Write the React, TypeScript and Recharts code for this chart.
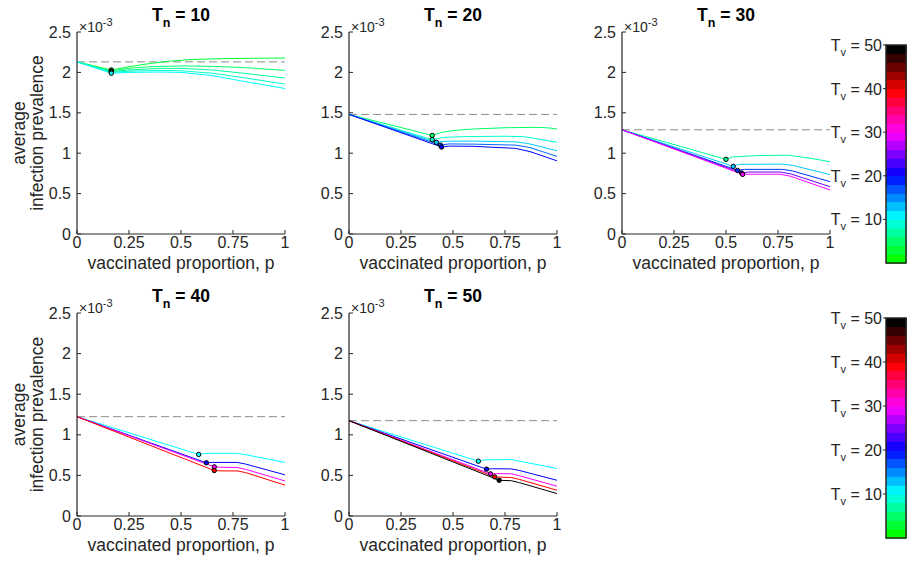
import React from 'react';
import { ComposedChart, Line, XAxis, YAxis, ReferenceLine, ReferenceArea } from 'recharts';

const FONT = '"Liberation Sans", Arial, Helvetica, sans-serif';
const INK = '#262626';

// axis ticks
const pTicks = [0, 0.25, 0.5, 0.75, 1];
const prevTicks = [0, 0.5, 1, 1.5, 2, 2.5];
const tvTicks = [10, 20, 30, 40, 50];
const tvBands = [0, 2, 4, 6, 8, 10, 12, 14, 16, 18, 20, 22, 24, 26, 28, 30, 32, 34, 36, 38, 40, 42, 44, 46, 48];

// curves: [p, prevalence x 1e-3]; 2nd point of each curve is the marked optimum
const tn10Baseline = 2.13;
const tn10Tv = [2, 4, 6, 8, 10];
const tn10Curves = [
  [[0, 2.13], [0.165, 2.03], [0.25, 2.07], [0.35, 2.11], [0.45, 2.14], [0.55, 2.16], [0.7, 2.17], [0.85, 2.175], [1, 2.178]],
  [[0, 2.13], [0.165, 2.02], [0.25, 2.05], [0.35, 2.07], [0.5, 2.08], [0.65, 2.075], [0.8, 2.06], [1, 2.025]],
  [[0, 2.13], [0.165, 2.01], [0.25, 2.03], [0.4, 2.05], [0.5, 2.05], [0.65, 2.03], [0.8, 1.99], [1, 1.93]],
  [[0, 2.13], [0.165, 2.0], [0.25, 2.015], [0.4, 2.025], [0.5, 2.02], [0.65, 1.99], [0.8, 1.935], [1, 1.855]],
  [[0, 2.13], [0.165, 1.99], [0.25, 2.0], [0.4, 2.005], [0.5, 2.0], [0.65, 1.96], [0.8, 1.89], [1, 1.8]],
];

const tn20Baseline = 1.48;
const tn20Tv = [4, 8, 12, 16, 20];
const tn20Curves = [
  [[0, 1.48], [0.4, 1.22], [0.45, 1.26], [0.5, 1.28], [0.6, 1.3], [0.75, 1.315], [0.9, 1.32], [0.95, 1.315], [1, 1.3]],
  [[0, 1.48], [0.4, 1.167], [0.45, 1.195], [0.55, 1.205], [0.75, 1.21], [0.84, 1.205], [0.9, 1.18], [1, 1.135]],
  [[0, 1.48], [0.42, 1.134], [0.46, 1.148], [0.6, 1.15], [0.8, 1.14], [0.86, 1.12], [1, 1.03]],
  [[0, 1.48], [0.44, 1.1], [0.48, 1.115], [0.6, 1.112], [0.8, 1.1], [0.87, 1.07], [1, 0.96]],
  [[0, 1.48], [0.445, 1.077], [0.48, 1.088], [0.6, 1.085], [0.8, 1.06], [0.87, 1.02], [1, 0.905]],
];

const tn30Baseline = 1.29;
const tn30Tv = [6, 12, 18, 24, 30];
const tn30Curves = [
  [[0, 1.29], [0.5, 0.924], [0.53, 0.953], [0.65, 0.97], [0.8, 0.975], [0.9, 0.94], [1, 0.895]],
  [[0, 1.29], [0.535, 0.837], [0.56, 0.862], [0.77, 0.865], [0.82, 0.85], [1, 0.735]],
  [[0, 1.29], [0.555, 0.788], [0.59, 0.8], [0.77, 0.8], [0.82, 0.78], [1, 0.648]],
  [[0, 1.29], [0.575, 0.755], [0.61, 0.767], [0.76, 0.767], [0.81, 0.745], [1, 0.585]],
  [[0, 1.29], [0.58, 0.738], [0.61, 0.74], [0.76, 0.74], [0.81, 0.715], [1, 0.545]],
];

const tn40Baseline = 1.223;
const tn40Tv = [10, 20, 30, 40];
const tn40Curves = [
  [[0, 1.223], [0.585, 0.758], [0.62, 0.772], [0.77, 0.772], [0.81, 0.755], [1, 0.66]],
  [[0, 1.223], [0.622, 0.655], [0.65, 0.66], [0.77, 0.66], [0.81, 0.64], [1, 0.507]],
  [[0, 1.223], [0.66, 0.605], [0.69, 0.6], [0.77, 0.598], [0.81, 0.575], [1, 0.432]],
  [[0, 1.223], [0.66, 0.56], [0.7, 0.555], [0.77, 0.555], [0.81, 0.535], [1, 0.38]],
];

const tn50Baseline = 1.174;
const tn50Tv = [10, 20, 30, 40, 50];
const tn50Curves = [
  [[0, 1.174], [0.622, 0.675], [0.65, 0.69], [0.78, 0.696], [0.82, 0.675], [1, 0.585]],
  [[0, 1.174], [0.661, 0.577], [0.69, 0.582], [0.78, 0.58], [0.82, 0.56], [1, 0.44]],
  [[0, 1.174], [0.68, 0.519], [0.71, 0.522], [0.78, 0.52], [0.82, 0.495], [1, 0.367]],
  [[0, 1.174], [0.7, 0.482], [0.73, 0.478], [0.78, 0.474], [0.82, 0.45], [1, 0.317]],
  [[0, 1.174], [0.722, 0.44], [0.75, 0.437], [0.78, 0.435], [0.82, 0.41], [1, 0.276]],
];

// green -> cyan -> blue -> magenta -> red -> black
function tvColor(t: number) {
  const s = (a: number) => Math.round(Math.max(0, Math.min(1, a)) * 255);
  if (t <= 10) return `rgb(0,255,${s(t / 10)})`;
  if (t <= 20) return `rgb(0,${s((20 - t) / 10)},255)`;
  if (t <= 30) return `rgb(${s((t - 20) / 10)},0,255)`;
  if (t <= 40) return `rgb(255,0,${s((40 - t) / 10)})`;
  return `rgb(${s((50 - t) / 10)},0,0)`;
}

const fmt = (v: number) => String(v);
const tickStyle = { fontSize: 16, fill: INK, fontFamily: FONT };

const Y_AXIS_W = 45;
const PLOT_W = 208;

function Panel({ left, top, plotH, baseline, tvs, curves }) {
  const W = Y_AXIS_W + PLOT_W + 10;
  const H = 10 + plotH + 30;
  return (
    <div style={{ position: 'absolute', left: left - Y_AXIS_W, top: top - 10 }}>
      <ComposedChart width={W} height={H} margin={{ top: 10, right: 10, bottom: 0, left: 0 }}>
        <XAxis
          type="number"
          dataKey="p"
          domain={[0, 1]}
          ticks={pTicks}
          interval={0}
          tickFormatter={fmt}
          height={30}
          axisLine={{ stroke: INK, strokeWidth: 1.2 }}
          tickLine={{ stroke: INK }}
          tickSize={-4}
          tickMargin={7}
          tick={tickStyle}
        />
        <YAxis
          type="number"
          domain={[0, 2.5]}
          ticks={prevTicks}
          interval={0}
          tickFormatter={fmt}
          width={Y_AXIS_W}
          axisLine={{ stroke: INK, strokeWidth: 1.2 }}
          tickLine={{ stroke: INK }}
          tickSize={-4}
          tickMargin={10}
          tick={tickStyle}
        />
        <ReferenceLine y={baseline} stroke="#8c8c8c" strokeDasharray="8 4" strokeWidth={1} />
        {curves.map((c, i) => {
          const color = tvColor(tvs[i]);
          return (
            <Line
              key={i}
              data={c.map(([p, v]) => ({ p, v }))}
              dataKey="v"
              type="linear"
              stroke={color}
              strokeWidth={1}
              isAnimationActive={false}
              dot={(props: any) =>
                props.index === 1 ? (
                  <circle key={`m-${i}`} cx={props.cx} cy={props.cy} r={2.2} fill={color} stroke="#000" strokeWidth={1} />
                ) : (
                  <g key={`d-${i}-${props.index}`} />
                )
              }
              activeDot={false}
            />
          );
        })}
      </ComposedChart>
    </div>
  );
}

function TvTick({ x, y, payload }: any) {
  return (
    <text x={x} y={y + 6} textAnchor="end" fontSize={16} fill={INK} fontFamily={FONT}>
      T<tspan dy={5} fontSize={11}>v</tspan>
      <tspan dy={-5}> = {payload.value}</tspan>
    </text>
  );
}

const barData = tvBands.map((b) => ({ x: 0.5, tv: b }));

function ColorBar({ top, plotH }) {
  const AX = 60;
  return (
    <div style={{ position: 'absolute', left: 886 - AX, top: top - 8 }}>
      <ComposedChart
        data={barData}
        width={AX + 20 + 1}
        height={plotH + 16}
        margin={{ top: 8, right: 1, bottom: 8, left: 0 }}
      >
        <XAxis type="number" dataKey="x" domain={[0, 1]} hide />
        <YAxis
          type="number"
          dataKey="tv"
          domain={[0, 50]}
          ticks={tvTicks}
          interval={0}
          width={AX}
          axisLine={false}
          tickLine={{ stroke: INK }}
          tickSize={3}
          tickMargin={1}
          tick={<TvTick />}
        />
        {tvBands.map((b) => {
          const c = tvColor((b * 50) / 48);
          return (
            <ReferenceArea
              key={b}
              x1={0}
              x2={1}
              y1={b}
              y2={b + 2}
              fill={c}
              fillOpacity={1}
              stroke={c}
              strokeWidth={0.8}
              shapeRendering="crispEdges"
            />
          );
        })}
        <ReferenceArea x1={0} x2={1} y1={0} y2={50} fill="none" stroke={INK} strokeWidth={1.5} />
      </ComposedChart>
    </div>
  );
}

const cols = [77, 349, 622];
const rows = [
  { top: 32, h: 202 },
  { top: 313, h: 203 },
];

const panels = [
  { tn: 10, col: 0, row: 0, baseline: tn10Baseline, tvs: tn10Tv, curves: tn10Curves },
  { tn: 20, col: 1, row: 0, baseline: tn20Baseline, tvs: tn20Tv, curves: tn20Curves },
  { tn: 30, col: 2, row: 0, baseline: tn30Baseline, tvs: tn30Tv, curves: tn30Curves },
  { tn: 40, col: 0, row: 1, baseline: tn40Baseline, tvs: tn40Tv, curves: tn40Curves },
  { tn: 50, col: 1, row: 1, baseline: tn50Baseline, tvs: tn50Tv, curves: tn50Curves },
];

export default function App() {
  return (
    <div style={{ position: 'absolute', left: 0, top: 0, width: 907, height: 561, background: '#fff', fontFamily: FONT }}>
      {panels.map((pn) => (
        <Panel
          key={pn.tn}
          left={cols[pn.col]}
          top={rows[pn.row].top}
          plotH={rows[pn.row].h}
          baseline={pn.baseline}
          tvs={pn.tvs}
          curves={pn.curves}
        />
      ))}
      <ColorBar top={45} plotH={218} />
      <ColorBar top={318} plotH={220} />

      <svg width={907} height={561} style={{ position: 'absolute', left: 0, top: 0, pointerEvents: 'none' }} fontFamily={FONT}>
        {panels.map((pn) => {
          const x0 = cols[pn.col];
          const cx = x0 + PLOT_W / 2;
          const t = rows[pn.row].top;
          const b = t + rows[pn.row].h;
          return (
            <g key={pn.tn} fill={INK}>
              <text x={cx} y={t - 11} textAnchor="middle" fontSize={17.5} fontWeight="bold" fill="#000">
                T<tspan dy={6} fontSize={12.5}>n</tspan>
                <tspan dy={-6}> = {pn.tn}</tspan>
              </text>
              <text x={x0 + 2} y={t} fontSize={14}>
                ×10<tspan dy={-6} fontSize={11}>-3</tspan>
              </text>
              <text x={cx} y={b + 34.5} textAnchor="middle" fontSize={17.5}>
                vaccinated proportion, p
              </text>
              {pn.col === 0 && (
                <g transform={`translate(0, ${(t + b) / 2}) rotate(-90)`}>
                  <text x={0} y={25} textAnchor="middle" fontSize={17.5}>average</text>
                  <text x={0} y={43} textAnchor="middle" fontSize={17.5}>infection prevalence</text>
                </g>
              )}
            </g>
          );
        })}
      </svg>
    </div>
  );
}
